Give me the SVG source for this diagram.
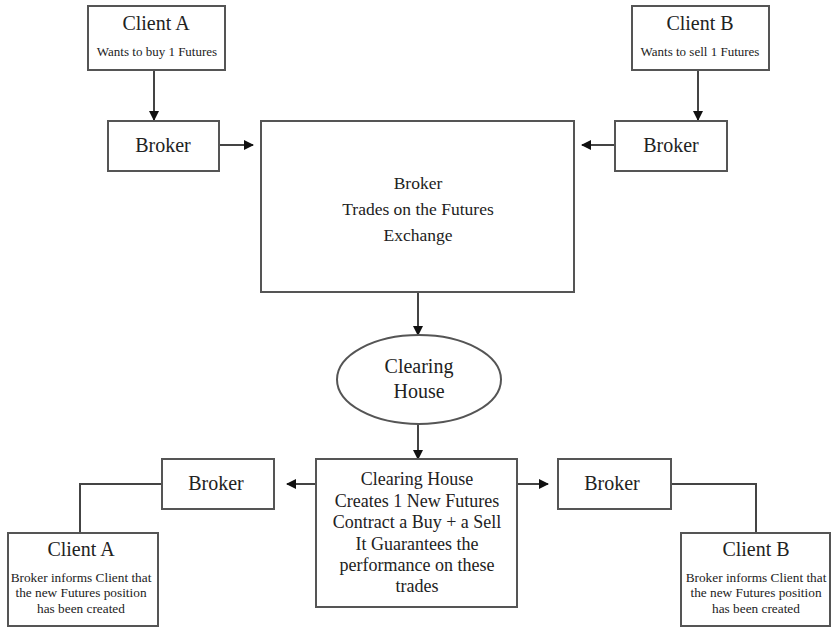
<svg xmlns="http://www.w3.org/2000/svg" width="831" height="627" viewBox="0 0 831 627">
<style>
.box{fill:#fff;stroke:#555;stroke-width:2}
.ln{fill:none;stroke:#444;stroke-width:2}
text{font-family:"Liberation Serif","Times New Roman",serif;fill:#222;text-anchor:middle}
.big{font-size:20px}
.mid{font-size:17.5px}
.cb{font-size:18px}
.sm{font-size:13px}
.sm2{font-size:13.3px}
</style>
<defs>
<marker id="ah" markerWidth="10" markerHeight="10" refX="9" refY="5" orient="auto" markerUnits="userSpaceOnUse">
<path d="M0,0 L10,5 L0,10 Z" fill="#111"/>
</marker>
</defs>
<rect width="831" height="627" fill="#fff"/>
<g id="connectors">
<line class="ln" x1="154" y1="70" x2="154" y2="120" marker-end="url(#ah)"/>
<line class="ln" x1="698" y1="70" x2="698" y2="120" marker-end="url(#ah)"/>
<line class="ln" x1="219" y1="145" x2="253" y2="145" marker-end="url(#ah)"/>
<line class="ln" x1="615" y1="145" x2="582" y2="145" marker-end="url(#ah)"/>
<line class="ln" x1="418" y1="292" x2="418" y2="335" marker-end="url(#ah)"/>
<line class="ln" x1="418" y1="424" x2="418" y2="459" marker-end="url(#ah)"/>
<line class="ln" x1="316" y1="484" x2="287" y2="484" marker-end="url(#ah)"/>
<line class="ln" x1="517" y1="484" x2="548" y2="484" marker-end="url(#ah)"/>
<polyline class="ln" points="162,484 80,484 80,533"/>
<polyline class="ln" points="671,484 756,484 756,533"/>
</g>
<g id="clientA-top">
<rect class="box" x="88" y="6" width="137" height="64"/>
<text class="big" x="156" y="30">Client A</text>
<text class="sm" x="157" y="56">Wants to buy 1 Futures</text>
</g>
<g id="clientB-top">
<rect class="box" x="632" y="6" width="137" height="64"/>
<text class="big" x="700" y="30">Client B</text>
<text class="sm" x="700" y="56">Wants to sell 1 Futures</text>
</g>
<g id="broker-top-left">
<rect class="box" x="108" y="121" width="111" height="50"/>
<text class="big" x="163" y="152">Broker</text>
</g>
<g id="broker-top-right">
<rect class="box" x="615" y="121" width="112" height="50"/>
<text class="big" x="671" y="152">Broker</text>
</g>
<g id="exchange">
<rect class="box" x="261" y="121" width="313" height="171"/>
<text class="mid" x="418" y="189">Broker</text>
<text class="mid" x="418" y="215">Trades on the Futures</text>
<text class="mid" x="418" y="241">Exchange</text>
</g>
<g id="clearing-house">
<ellipse class="box" cx="419" cy="379.5" rx="82" ry="44.5"/>
<text class="big" x="419" y="373">Clearing</text>
<text class="big" x="419" y="398">House</text>
</g>
<g id="clearing-box">
<rect class="box" x="316" y="459" width="201" height="148"/>
<text class="cb" x="417" y="485">Clearing House</text>
<text class="cb" x="417" y="507">Creates 1 New Futures</text>
<text class="cb" x="417" y="528">Contract a Buy + a Sell</text>
<text class="cb" x="417" y="550">It Guarantees the</text>
<text class="cb" x="417" y="571">performance on these</text>
<text class="cb" x="417" y="592">trades</text>
</g>
<g id="broker-bottom-left">
<rect class="box" x="162" y="459" width="112" height="50"/>
<text class="big" x="216" y="490">Broker</text>
</g>
<g id="broker-bottom-right">
<rect class="box" x="558" y="459" width="113" height="50"/>
<text class="big" x="612" y="490">Broker</text>
</g>
<g id="clientA-bottom">
<rect class="box" x="8" y="533" width="150" height="93"/>
<text class="big" x="81" y="556">Client A</text>
<text class="sm2" x="81" y="582">Broker informs Client that</text>
<text class="sm2" x="81" y="597">the new Futures position</text>
<text class="sm2" x="81" y="613">has been created</text>
</g>
<g id="clientB-bottom">
<rect class="box" x="681" y="533" width="149" height="93"/>
<text class="big" x="756" y="556">Client B</text>
<text class="sm2" x="756" y="582">Broker informs Client that</text>
<text class="sm2" x="756" y="597">the new Futures position</text>
<text class="sm2" x="756" y="613">has been created</text>
</g>
</svg>
